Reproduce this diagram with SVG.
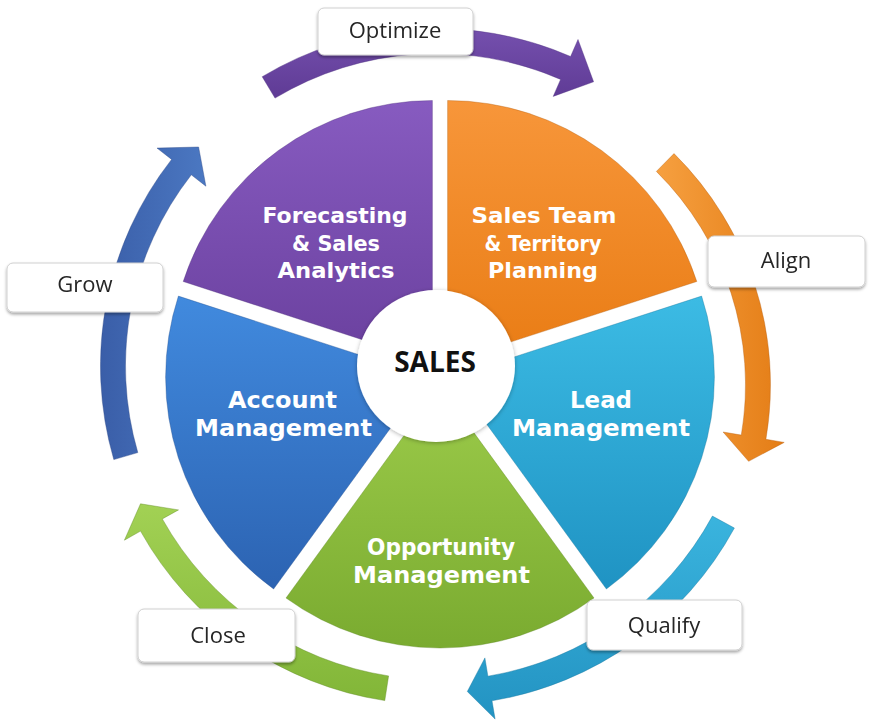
<svg xmlns="http://www.w3.org/2000/svg" width="870" height="728" viewBox="0 0 870 728">
<defs>
<linearGradient id="gPurple" x1="0" y1="0" x2="0" y2="1"><stop offset="0" stop-color="#875bc0"/><stop offset="1" stop-color="#6a409e"/></linearGradient>
<linearGradient id="gOrange" x1="0" y1="0" x2="0" y2="1"><stop offset="0" stop-color="#f7963a"/><stop offset="1" stop-color="#e97c14"/></linearGradient>
<linearGradient id="gCyan" x1="0" y1="0" x2="0" y2="1"><stop offset="0" stop-color="#3cbbe4"/><stop offset="1" stop-color="#1f93c3"/></linearGradient>
<linearGradient id="gGreen" x1="0" y1="0" x2="0" y2="1"><stop offset="0" stop-color="#9ccb4a"/><stop offset="1" stop-color="#7aab30"/></linearGradient>
<linearGradient id="gBlue" x1="0" y1="0" x2="0" y2="1"><stop offset="0" stop-color="#418ade"/><stop offset="1" stop-color="#2c63b2"/></linearGradient>
<linearGradient id="aPurple" x1="0" y1="0" x2="0" y2="1"><stop offset="0" stop-color="#7550ae"/><stop offset="1" stop-color="#5f3b95"/></linearGradient>
<linearGradient id="aOrange" x1="0" y1="0" x2="1" y2="0"><stop offset="0" stop-color="#f6a040"/><stop offset="1" stop-color="#e47d16"/></linearGradient>
<linearGradient id="aCyan" x1="0" y1="0" x2="0" y2="1"><stop offset="0" stop-color="#3ab4de"/><stop offset="1" stop-color="#2393c2"/></linearGradient>
<linearGradient id="aGreen" x1="0" y1="0" x2="0" y2="1"><stop offset="0" stop-color="#a2d154"/><stop offset="1" stop-color="#82b638"/></linearGradient>
<linearGradient id="aBlue" x1="1" y1="0" x2="0" y2="0"><stop offset="0" stop-color="#4b78c2"/><stop offset="1" stop-color="#3a5ea8"/></linearGradient>
<filter id="shadow" x="-10%" y="-10%" width="120%" height="130%"><feDropShadow dx="0" dy="2" stdDeviation="1.8" flood-color="#000" flood-opacity="0.35"/></filter>
<filter id="soft" x="-10%" y="-10%" width="120%" height="120%"><feDropShadow dx="0" dy="1" stdDeviation="2" flood-color="#000" flood-opacity="0.3"/></filter>
</defs>
<style>
.seg{stroke-width:1;stroke-opacity:0.35}
.lbl{font-family:"DejaVu Sans",sans-serif;font-weight:bold;fill:#ffffff;text-anchor:middle}
.top{font-size:22px}
.big{font-size:23px}
.box{fill:#ffffff;stroke:#d0d0d0;stroke-width:1}
.btxt{font-family:"Open Sans",sans-serif;font-size:22px;fill:#262626;text-anchor:middle}
.arrow{stroke-width:0.8;stroke-opacity:0.5}
</style>
<rect width="870" height="728" fill="#ffffff"/>

<g id="connectors">
<path class="arrow" fill="url(#aPurple)" stroke="#4e2f80" d="M262.2,76.7 A337.5,337.5 0 0 1 570.6,56.5 L578.0,39.5 L593.6,81.8 L553.2,96.4 L560.6,79.4 A312.5,312.5 0 0 0 275.0,98.1 Z"/>
<path class="arrow" fill="url(#aOrange)" stroke="#b8600e" d="M674.0,153.6 A325.5,325.5 0 0 1 765.9,439.3 L784.2,442.4 L748.6,461.3 L723.1,432.0 L741.3,435.1 A300.5,300.5 0 0 0 656.4,171.4 Z"/>
<path class="arrow" fill="url(#aCyan)" stroke="#16769e" d="M734.4,528.0 A339.5,339.5 0 0 1 492.0,700.8 L495.1,719.1 L467.3,691.5 L484.9,657.9 L487.9,676.2 A314.5,314.5 0 0 0 712.4,516.1 Z"/>
<path class="arrow" fill="url(#aGreen)" stroke="#5f8a22" d="M384.8,700.6 A338.5,338.5 0 0 1 140.5,531.1 L124.4,540.2 L140.5,503.8 L178.5,509.9 L162.3,518.9 A313.5,313.5 0 0 0 388.6,675.9 Z"/>
<path class="arrow" fill="url(#aBlue)" stroke="#2a4785" d="M113.8,459.6 A335.5,335.5 0 0 1 171.6,159.4 L157.0,148.1 L198.6,147.0 L205.9,186.2 L191.3,174.8 A310.5,310.5 0 0 0 137.8,452.6 Z"/>
</g>

<g id="forecasting">
<path class="seg" fill="url(#gPurple)" stroke="#4a2a78" d="M432.4,362.5 L183.2,281.5 A262,262 0 0 1 432.4,100.5 Z"/>
<text class="lbl top" x="335" y="223" textLength="145" lengthAdjust="spacingAndGlyphs">Forecasting</text>
<text class="lbl top" x="336" y="251" textLength="88" lengthAdjust="spacingAndGlyphs">&amp; Sales</text>
<text class="lbl top" x="336" y="278" textLength="117" lengthAdjust="spacingAndGlyphs">Analytics</text>
</g>

<g id="sales-team">
<path class="seg" fill="url(#gOrange)" stroke="#b05a08" d="M447.6,362.5 L447.6,100.5 A262,262 0 0 1 696.8,281.5 Z"/>
<text class="lbl top" x="544" y="223" textLength="145" lengthAdjust="spacingAndGlyphs">Sales Team</text>
<text class="lbl top" x="543" y="251" textLength="117" lengthAdjust="spacingAndGlyphs">&amp; Territory</text>
<text class="lbl top" x="543" y="278" textLength="110" lengthAdjust="spacingAndGlyphs">Planning</text>
</g>

<g id="lead-management">
<path class="seg" fill="url(#gCyan)" stroke="#136f96" d="M452.4,377.0 L701.6,296.1 A262,262 0 0 1 606.4,589.0 Z"/>
<text class="lbl big" x="601" y="408" textLength="62" lengthAdjust="spacingAndGlyphs">Lead</text>
<text class="lbl big" x="601" y="436" textLength="178" lengthAdjust="spacingAndGlyphs">Management</text>
</g>

<g id="opportunity-management">
<path class="seg" fill="url(#gGreen)" stroke="#5a8420" d="M440,386 L594.0,598.0 A262,262 0 0 1 286.0,598.0 Z"/>
<text class="lbl big" x="441" y="555" textLength="148" lengthAdjust="spacingAndGlyphs">Opportunity</text>
<text class="lbl big" x="441.5" y="583" textLength="177" lengthAdjust="spacingAndGlyphs">Management</text>
</g>

<g id="account-management">
<path class="seg" fill="url(#gBlue)" stroke="#1f4a8a" d="M427.6,377.0 L273.6,589.0 A262,262 0 0 1 178.4,296.1 Z"/>
<text class="lbl big" x="282.5" y="408" textLength="109" lengthAdjust="spacingAndGlyphs">Account</text>
<text class="lbl big" x="283.5" y="436" textLength="177" lengthAdjust="spacingAndGlyphs">Management</text>
</g>

<g id="sales">
<ellipse cx="436" cy="366" rx="79" ry="76" fill="#ffffff" filter="url(#soft)"/>
<text x="435" y="372" font-family="'Open Sans',sans-serif" font-weight="bold" font-size="28" fill="#111111" text-anchor="middle">SALES</text>
</g>

<g id="optimize" filter="url(#shadow)">
<rect class="box" x="318" y="8" width="155" height="47" rx="6"/>
<text class="btxt" x="395" y="38">Optimize</text>
</g>
<g id="align" filter="url(#shadow)">
<rect class="box" x="708" y="236" width="157" height="51" rx="6"/>
<text class="btxt" x="786" y="268">Align</text>
</g>
<g id="qualify" filter="url(#shadow)">
<rect class="box" x="587" y="600" width="155" height="50" rx="6"/>
<text class="btxt" x="664" y="633">Qualify</text>
</g>
<g id="close" filter="url(#shadow)">
<rect class="box" x="138" y="609" width="157" height="53" rx="6"/>
<text class="btxt" x="218" y="643">Close</text>
</g>
<g id="grow" filter="url(#shadow)">
<rect class="box" x="7" y="263" width="156" height="49" rx="6"/>
<text class="btxt" x="85" y="292">Grow</text>
</g>
</svg>
